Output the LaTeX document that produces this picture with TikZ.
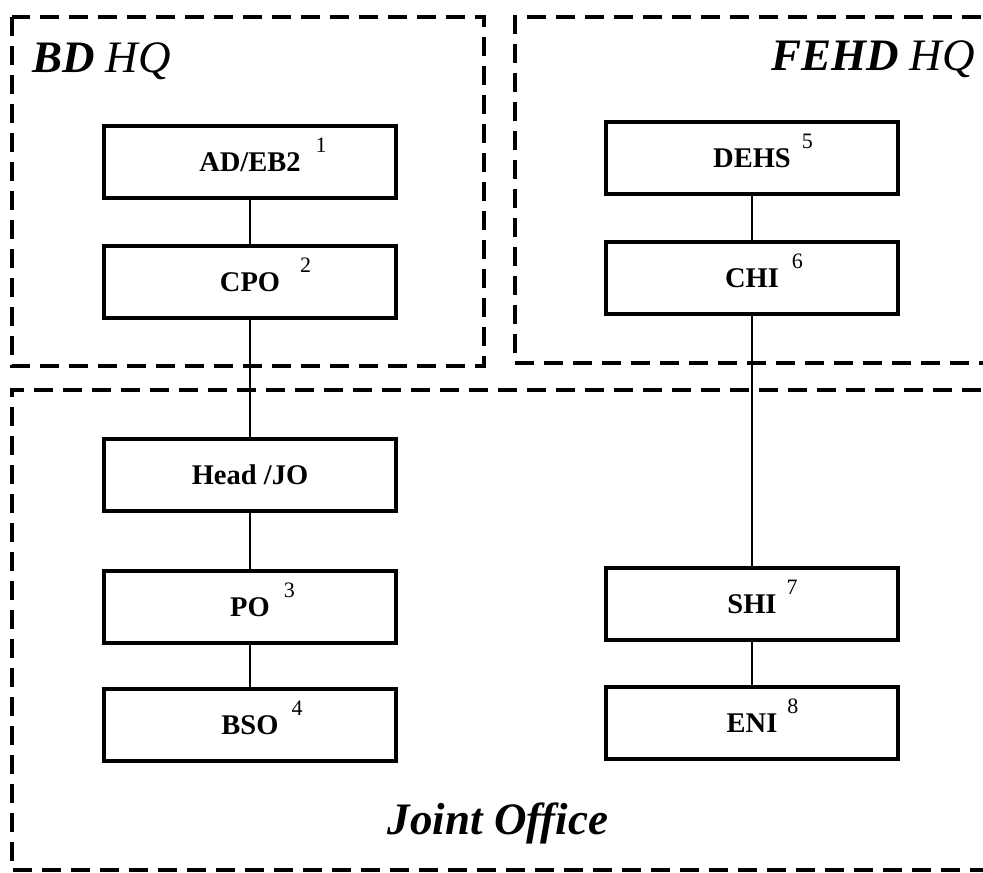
\documentclass[tikz,border=0pt]{standalone}
\usepackage{fontspec}
\setmainfont{Liberation Serif}
\newcommand\supnum[2][12pt]{\rlap{\hspace{#1}\raisebox{19pt}{\fontsize{22}{22}\selectfont\mdseries\upshape #2}}}
\begin{document}
\begin{tikzpicture}[x=1pt,y=-1pt,
  unit/.style={draw,line width=3.8pt,minimum width=292pt,minimum height=72pt,inner sep=0pt,
    font=\fontsize{28.5}{28.5}\selectfont\bfseries,text height=19pt,text depth=0pt},
  zone/.style={line width=3.8pt,dash pattern=on 19pt off 10pt},
  link/.style={line width=2pt},
  hq/.style={font=\fontsize{45}{45}\selectfont\itshape,inner sep=0pt}]
\useasboundingbox (0,0) rectangle (983,873);
\clip (0,0) rectangle (983,873);
\fill[white] (0,0) rectangle (983,873);
% zones
\draw[zone] (12,17) rectangle (484,366);
\draw[zone] (1010,17) -- (515,17) -- (515,363) -- (1010,363);
\draw[zone] (1010,390) -- (12,390) -- (12,870) -- (1010,870);
% zone titles
\node[hq,anchor=base west] (bdhq) at (32,72) {\textbf{BD} HQ};
\node[hq,anchor=base east] (fehdhq) at (975,70) {\textbf{FEHD} HQ};
\node[hq,anchor=base,font=\fontsize{45}{45}\selectfont\bfseries\itshape] (joint) at (498,834) {Joint Office};
% units
\node[unit] (adeb) at (250,162) {AD/EB2\supnum[15pt]{1}};
\node[unit] (cpo)  at (250,282) {CPO\supnum[20pt]{2}};
\node[unit] (head) at (250,475) {Head /JO};
\node[unit] (po)   at (250,607) {PO\supnum[14pt]{3}};
\node[unit] (bso)  at (250,725) {BSO\supnum[13pt]{4}};
\node[unit] (dehs) at (752,158) {DEHS\supnum[11pt]{5}};
\node[unit] (chi)  at (752,278) {CHI\supnum[13pt]{6}};
\node[unit] (shi)  at (752,604) {SHI\supnum[10pt]{7}};
\node[unit] (eni)  at (752,723) {ENI\supnum[10pt]{8}};
% links
\draw[link] (adeb) -- (cpo);
\draw[link] (cpo) -- (head);
\draw[link] (head) -- (po);
\draw[link] (po) -- (bso);
\draw[link] (dehs) -- (chi);
\draw[link] (chi) -- (shi);
\draw[link] (shi) -- (eni);
\end{tikzpicture}
\end{document}
